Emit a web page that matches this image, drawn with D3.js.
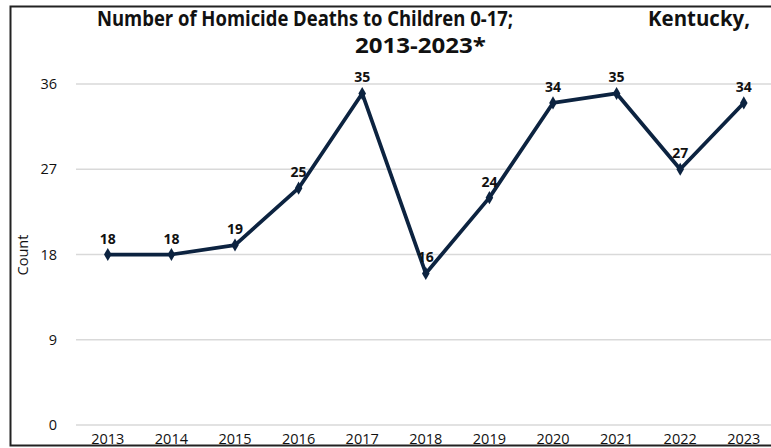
<!DOCTYPE html>
<html>
<head>
<meta charset="utf-8">
<script src="https://cdn.jsdelivr.net/npm/d3@7"></script>
<style>
  body { margin: 0; background: #fff; }
  text { font-family: "Open Sans", "Liberation Sans", sans-serif; fill: #111; }
</style>
</head>
<body>
<div id="chart"></div>
<script>
var years = ["2013", "2014", "2015", "2016", "2017", "2018", "2019", "2020", "2021", "2022", "2023"];
var deaths = [18, 18, 19, 25, 35, 16, 24, 34, 35, 27, 34];
var yTicks = [0, 9, 18, 27, 36];

var svgWidth = 771;
var svgHeight = 448;

var svg = d3.select("#chart")
  .append("svg")
    .attr("width", svgWidth)
    .attr("height", svgHeight);

// frame round the chart (cut off on the right in the original)
svg.append("rect")
  .attr("x", 10.5)
  .attr("y", 6.5)
  .attr("width", 800)
  .attr("height", 439)
  .attr("fill", "none")
  .attr("stroke", "#222")
  .attr("stroke-width", 2);

var xScale = d3.scaleBand()
  .domain(years)
  .range([76, 775.6]);

var yScale = d3.scaleLinear()
  .domain([0, 36])
  .range([425, 84]);

// gridlines
svg.append("g")
  .selectAll("line")
  .data(yTicks)
  .enter()
  .append("line")
    .attr("x1", 76)
    .attr("x2", 771)
    .attr("y1", d => yScale(d))
    .attr("y2", d => yScale(d))
    .attr("stroke", "#d9d9d9")
    .attr("stroke-width", 1.5);

// y tick labels
var leftAxis = d3.axisLeft(yScale).tickValues(yTicks).tickSize(0).tickPadding(0);
var yAxisG = svg.append("g")
  .attr("transform", "translate(57,0)")
  .call(leftAxis);
yAxisG.select(".domain").remove();
yAxisG.selectAll("text")
  .attr("font-size", 14.5)
  .attr("font-family", "Open Sans")
  .attr("fill", "#111");

// x tick labels
var bottomAxis = d3.axisBottom(xScale).tickSize(0).tickPadding(0);
var xAxisG = svg.append("g")
  .attr("transform", "translate(0,434)")
  .call(bottomAxis);
xAxisG.select(".domain").remove();
xAxisG.selectAll("text")
  .attr("font-size", 14.5)
  .attr("font-family", "Open Sans")
  .attr("fill", "#111");

// axis title
svg.append("text")
  .attr("transform", "translate(28,255) rotate(-90)")
  .attr("text-anchor", "middle")
  .attr("font-size", 14.5)
  .text("Count");

var points = years.map((y, i) => ({ year: y, value: deaths[i] }));

var line = d3.line()
  .x(d => xScale(d.year) + xScale.bandwidth() / 2)
  .y(d => yScale(d.value));

svg.append("path")
  .datum(points)
  .attr("d", line)
  .attr("fill", "none")
  .attr("stroke", "#0c2340")
  .attr("stroke-width", 3.75)
  .attr("stroke-linejoin", "round");

svg.append("g")
  .selectAll("path")
  .data(points)
  .enter()
  .append("path")
    .attr("d", d3.symbol().type(d3.symbolDiamond).size(50))
    .attr("transform", d => `translate(${xScale(d.year) + xScale.bandwidth() / 2},${yScale(d.value)})`)
    .attr("fill", "#0c2340");

// value labels
svg.append("g")
  .selectAll("text")
  .data(points)
  .enter()
  .append("text")
    .attr("x", d => xScale(d.year) + xScale.bandwidth() / 2)
    .attr("y", d => yScale(d.value) - 11)
    .attr("text-anchor", "middle")
    .attr("font-size", 14)
    .attr("font-weight", "bold")
    .text(d => d.value);

// chart title
svg.append("text")
  .attr("x", 97)
  .attr("y", 26)
  .attr("font-size", 21)
  .attr("font-weight", "bold")
  .attr("textLength", 416)
  .attr("lengthAdjust", "spacingAndGlyphs")
  .text("Number of Homicide Deaths to Children 0-17;");

svg.append("text")
  .attr("x", 648)
  .attr("y", 26)
  .attr("font-size", 21)
  .attr("font-weight", "bold")
  .attr("textLength", 102)
  .attr("lengthAdjust", "spacingAndGlyphs")
  .text("Kentucky,");

svg.append("text")
  .attr("x", 355)
  .attr("y", 53)
  .attr("font-size", 21)
  .attr("font-weight", "bold")
  .attr("textLength", 131)
  .attr("lengthAdjust", "spacingAndGlyphs")
  .text("2013-2023*");
</script>
</body>
</html>
